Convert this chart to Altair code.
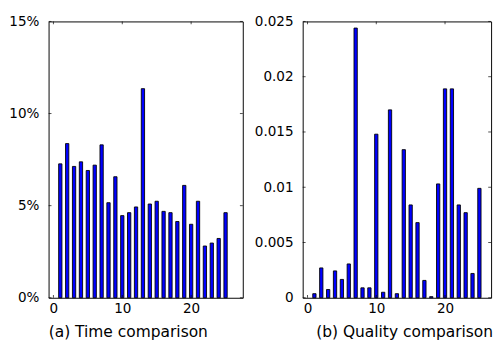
import altair as alt
import pandas as pd

idx = list(range(1, 26))
time_pct = [7.27, 8.37, 7.13, 7.38, 6.91, 7.20, 8.30, 5.16, 6.57, 4.46, 4.62, 4.93, 11.35,
            5.09, 5.24, 4.69, 4.62, 4.14, 6.10, 3.99, 5.24, 2.81, 2.97, 3.22, 4.62]
quality = [0.00037, 0.0027, 0.00075, 0.00243, 0.00166, 0.00306, 0.0244, 0.0009, 0.0009,
           0.0148, 0.0005, 0.0170, 0.00037, 0.0134, 0.0084, 0.0068, 0.00157, 0.0001,
           0.0103, 0.0189, 0.0189, 0.0084, 0.0077, 0.0022, 0.0099]
x_ticks = [0, 10, 20]
y_ticks_time = [0, 5, 10, 15]
y_ticks_quality = [0, 0.005, 0.01, 0.015, 0.02, 0.025]

FONT = "DejaVu Sans"
H = 286


def panel(values, ydomain, yticks, label_expr, title, width, xmax, extent, title_x):
    df = pd.DataFrame({"idx": idx, "v": values})
    xs = alt.Scale(domain=[0, xmax], nice=False, zero=False)
    ys = alt.Scale(domain=ydomain, nice=False)
    xax = alt.Axis(values=x_ticks, title=title, labelPadding=4, titleX=title_x,
                   titleAlign="center", titlePadding=9)
    yax = alt.Axis(values=yticks, labelExpr=label_expr, title=None, labelPadding=10,
                   minExtent=extent, maxExtent=extent)
    bars = alt.Chart(df).mark_bar(
        orient="vertical", width=3.4, color="#0000ff", stroke="black", strokeWidth=0.9
    ).encode(
        x=alt.X("idx:Q", scale=xs, axis=xax),
        y=alt.Y("v:Q", scale=ys, axis=yax),
    )
    yt = pd.DataFrame({"v": yticks})
    xt = pd.DataFrame({"idx": x_ticks})
    tk = dict(color="black", thickness=1, size=3)
    lt = alt.Chart(yt).mark_tick(orient="horizontal", **tk).encode(
        y=alt.Y("v:Q", scale=ys, axis=yax), x=alt.value(1.5))
    rt = alt.Chart(yt).mark_tick(orient="horizontal", **tk).encode(
        y=alt.Y("v:Q", scale=ys, axis=yax), x=alt.value(width - 1.5))
    tt = alt.Chart(xt).mark_tick(orient="vertical", **tk).encode(
        x=alt.X("idx:Q", scale=xs, axis=xax), y=alt.value(1.5))
    bt = alt.Chart(xt).mark_tick(orient="vertical", **tk).encode(
        x=alt.X("idx:Q", scale=xs, axis=xax), y=alt.value(H - 1.5))
    return alt.layer(bars, lt, rt, tt, bt).properties(width=width, height=H)


left = panel(time_pct, [0, 15], y_ticks_time, "datum.value + '%'",
             "(a) Time comparison", 201, 26.8, 40, 82)
right = panel(quality, [0, 0.025], y_ticks_quality, "format(datum.value, '~g')",
              "(b) Quality comparison", 195, 26.0, 50, 105)

chart = alt.hconcat(left, right, spacing=10).properties(
    padding={"left": 0, "top": 0, "right": 0, "bottom": 0}
).configure_view(stroke="black", strokeWidth=1).configure_axis(
    domain=False, ticks=False, tickSize=0, grid=False,
    labelFont=FONT, labelFontSize=14, labelColor="black",
    titleFont=FONT, titleFontSize=16, titleFontWeight="normal", titleColor="black",
)

chart.save("out.html", embed_options={"renderer": "svg", "actions": False})
